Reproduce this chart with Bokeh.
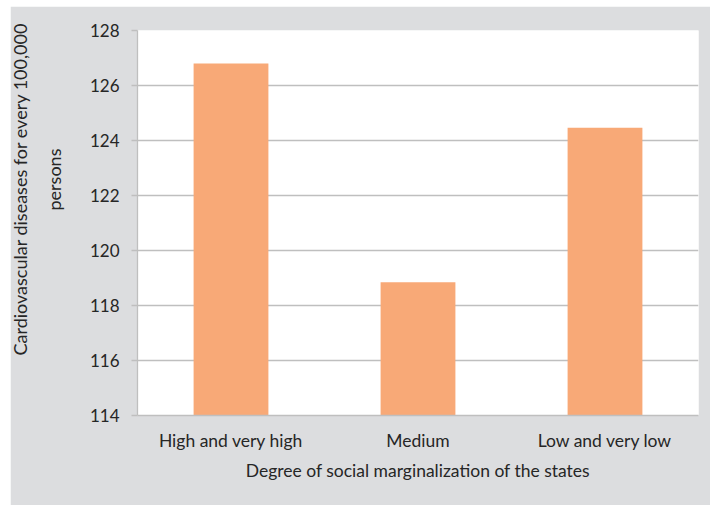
from bokeh.plotting import figure
from bokeh.models import Range1d, FactorRange, ColumnDataSource, Title
from bokeh.embed import file_html
from bokeh.resources import INLINE

categories = ["High and very high", "Medium", "Low and very low"]
values = [126.8, 118.85, 124.46]
y_ticks = [114, 116, 118, 120, 122, 124, 126, 128]
y_title_lines = ["Cardiovascular diseases for every 100,000", "persons"]
x_title = "Degree of social marginalization of the states"

BG = "#dcdddf"
GRID = "#bfbfbf"
TXT = "#262626"
FONT = "Lato"

src = ColumnDataSource(dict(cat=categories, val=values))

p = figure(
    x_range=FactorRange(*categories, range_padding=0),
    y_range=Range1d(114, 128),
    frame_width=561, frame_height=385,
    min_border_left=127, min_border_top=24, min_border_right=12, min_border_bottom=90,
    output_backend="svg", toolbar_location=None,
    background_fill_color="white", border_fill_color=BG,
    outline_line_color=None,
    margin=(6, 0, 0, 10),
)

p.vbar(x="cat", top="val", bottom=114, width=0.4, source=src,
       fill_color="#f8a977", line_color=None)

p.xgrid.grid_line_color = None
p.ygrid.grid_line_color = GRID
p.ygrid.grid_line_width = 1.3
p.yaxis.ticker = y_ticks

for ax in (p.xaxis[0], p.yaxis[0]):
    ax.axis_line_color = GRID
    ax.axis_line_width = 1.3
    ax.major_label_text_font = FONT
    ax.major_label_text_color = TXT
    ax.major_label_text_font_size = "17.5px"
    ax.axis_label_text_font = FONT
    ax.axis_label_text_color = TXT
    ax.axis_label_text_font_size = "17.5px"
    ax.axis_label_text_font_style = "normal"
    ax.minor_tick_line_color = None

p.yaxis.major_label_text_font_size = "17px"
p.yaxis.major_tick_line_color = GRID
p.yaxis.major_tick_line_width = 1.3
p.yaxis.major_tick_in = 0
p.yaxis.major_tick_out = 6
p.yaxis.major_label_standoff = 12

# second line (nearer the axis) first, then first line further out
for txt, off, so in ((y_title_lines[1], 205, 44), (y_title_lines[0], 60, -24)):
    t = Title(text=txt, align="left", offset=off,
              text_font=FONT, text_font_size="18px", text_color=TXT,
              text_font_style="normal", standoff=so)
    p.add_layout(t, "left")

p.xaxis.major_tick_line_color = None
p.xaxis.major_label_standoff = 8
p.xaxis.axis_label = x_title
p.xaxis.axis_label_standoff = 6

open("out.html", "w").write(file_html(p, INLINE))
